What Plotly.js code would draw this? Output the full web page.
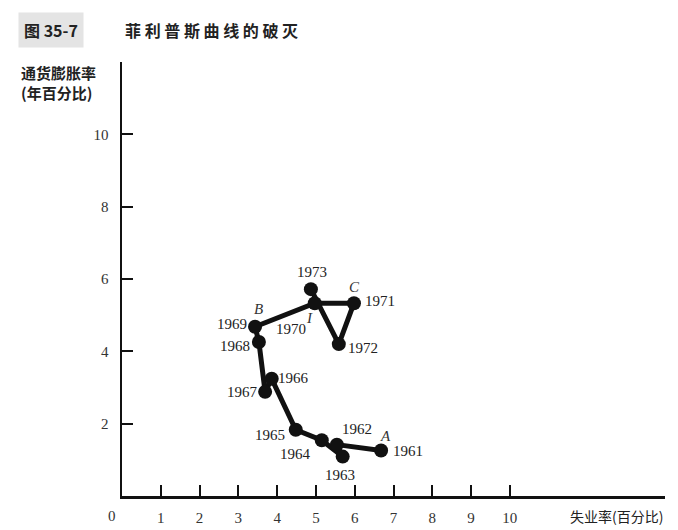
<!DOCTYPE html>
<html><head><meta charset="utf-8">
<script src="https://cdn.plot.ly/plotly-3.0.1.min.js"></script>
<style>html,body{margin:0;padding:0;background:#fff;}</style>
</head><body>
<div id="chart" style="width:678px;height:530px;"></div>
<script>
// Data
const years = ['1961','1962','1963','1964','1965','1966','1967','1968','1969','1970','1971','1972','1973'];
const unemployment = [6.68, 5.54, 5.69, 5.15, 4.48, 3.86, 3.69, 3.53, 3.43, 4.97, 5.98, 5.59, 4.87];
const inflation = [1.26, 1.42, 1.09, 1.54, 1.83, 3.24, 2.88, 4.26, 4.68, 5.33, 5.33, 4.20, 5.72];
const xTicks = [1,2,3,4,5,6,7,8,9,10];
const yTicks = [2,4,6,8,10];
const pointLetters = ['A','B','C','I'];
const letterYears = ['1961','1969','1971','1970'];

// Label placement (style only): pixel offsets from each point
const yearOffsets = [[27,-1],[20,16],[-3,-18],[-26,-14],[-26,-5],[22,1],[-23,0],[-24,-4],[-23,3],[-24,-26],[26,2],[24,-4],[1,17]];
const letterOffsets = [[4,14],[3,18],[1,16],[-5,-15]];

const serif = 'Liberation Serif, Times New Roman, serif';
const cjk = 'Noto Sans CJK SC, sans-serif';

const annotations = [];
years.forEach((yr, i) => {
  annotations.push({x: unemployment[i], y: inflation[i], xref:'x', yref:'y', text: yr, showarrow:false,
    xshift: yearOffsets[i][0], yshift: yearOffsets[i][1], font:{family: serif, size:15, color:'#222'}});
});
pointLetters.forEach((L, j) => {
  const i = years.indexOf(letterYears[j]);
  annotations.push({x: unemployment[i], y: inflation[i], xref:'x', yref:'y', text: '<i>'+L+'</i>', showarrow:false,
    xshift: letterOffsets[j][0], yshift: letterOffsets[j][1], font:{family: serif, size:15, color:'#333'}});
});
// Figure number and title
annotations.push({xref:'paper', yref:'paper', x:-0.192, y:1.074, xanchor:'left', yanchor:'middle', showarrow:false,
  text:'<b>图 35-7</b>', bgcolor:'#e4e4e4', borderpad:5, font:{family: cjk, size:16, color:'#222'}});
annotations.push({xref:'paper', yref:'paper', x:0.002, y:1.074, xanchor:'left', yanchor:'middle', showarrow:false,
  text:'<b>菲 利 普 斯 曲 线 的 破 灭</b>', font:{family: cjk, size:16, color:'#222'}});
// Axis titles
annotations.push({xref:'paper', yref:'paper', x:-0.19, y:1.005, xanchor:'left', yanchor:'top', align:'left', showarrow:false,
  text:'<b>通货膨胀率</b><br><b>(年百分比)</b>', font:{family: cjk, size:15, color:'#222'}});
annotations.push({xref:'paper', yref:'paper', x:1.0, y:-0.045, xanchor:'right', yanchor:'middle', showarrow:false,
  text:'失业率(百分比)', font:{family: cjk, size:14, color:'#222'}});
annotations.push({xref:'x', yref:'paper', x:0, y:-0.045, xshift:-10, xanchor:'center', yanchor:'middle', showarrow:false,
  text:'0', font:{family: serif, size:15, color:'#333'}});

const trace = {
  x: unemployment, y: inflation, type:'scatter', mode:'lines+markers',
  line:{color:'#111', width:5},
  marker:{color:'#111', size:14},
  hoverinfo:'skip', cliponaxis:false
};

const layout = {
  width:678, height:530,
  margin:{l:122, r:13, t:62, b:34},
  paper_bgcolor:'#fff', plot_bgcolor:'#fff',
  showlegend:false,
  xaxis:{range:[0,14], tickvals:xTicks, ticktext:xTicks.map(String), ticks:'inside', ticklen:11, tickwidth:2, tickcolor:'#111',
    showline:true, linecolor:'#111', linewidth:2.5, showgrid:false, zeroline:false,
    tickfont:{family: serif, size:15, color:'#333'}, ticklabelstandoff:6},
  yaxis:{range:[0,12], tickvals:yTicks, ticktext:yTicks.map(String), ticks:'inside', ticklen:11, tickwidth:2, tickcolor:'#111',
    showline:true, linecolor:'#111', linewidth:2.5, showgrid:false, zeroline:false,
    tickfont:{family: serif, size:15, color:'#333'}, ticklabelstandoff:8},
  annotations: annotations
};

Plotly.newPlot('chart', [trace], layout, {staticPlot:true, displayModeBar:false});
</script>
</body></html>
